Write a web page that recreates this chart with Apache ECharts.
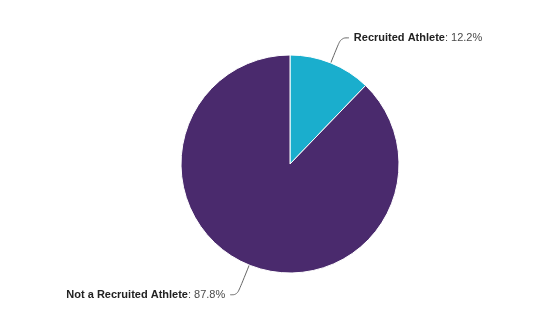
<!DOCTYPE html>
<html>
<head>
<meta charset="utf-8">
<script src="https://cdn.jsdelivr.net/npm/echarts@6/dist/echarts.min.js"></script>
<style>
  html, body { margin: 0; padding: 0; background: #ffffff; }
  #chart { width: 554px; height: 322px; }
</style>
</head>
<body>
<div id="chart"></div>
<script>
// Share of students by athlete recruitment status
const categories = ['Recruited Athlete', 'Not a Recruited Athlete'];
const shares = [12.2, 87.8];
const sliceColors = ['#1aaecd', '#4a2a6d'];
// connector geometry per slice: [radial length, horizontal length]
const connectorLengths = [[27, 8], [32, 7]];

const chart = echarts.init(document.getElementById('chart'), null, { renderer: 'canvas' });

chart.setOption({
  animation: false,
  backgroundColor: '#ffffff',
  series: [{
    type: 'pie',
    center: [290, 164],
    radius: 109,
    startAngle: 90,
    clockwise: true,
    data: categories.map((name, i) => ({
      name,
      value: shares[i],
      itemStyle: { color: sliceColors[i] },
      labelLine: { length: connectorLengths[i][0], length2: connectorLengths[i][1] }
    })),
    itemStyle: { borderColor: '#ffffff', borderWidth: 1 },
    label: {
      show: true,
      position: 'outside',
      formatter: p => '{n|' + p.name + '}{v|: ' + p.value.toFixed(1) + '%}',
      rich: {
        n: { fontFamily: 'Liberation Sans, Arial, sans-serif', fontSize: 11, fontWeight: 'bold', color: '#222222' },
        v: { fontFamily: 'Liberation Sans, Arial, sans-serif', fontSize: 11, color: '#4a4a4a' }
      }
    },
    labelLine: {
      show: true,
      smooth: 0.4,
      lineStyle: { color: '#666666', width: 1 }
    },
    emphasis: { disabled: true }
  }]
});
</script>
</body>
</html>
